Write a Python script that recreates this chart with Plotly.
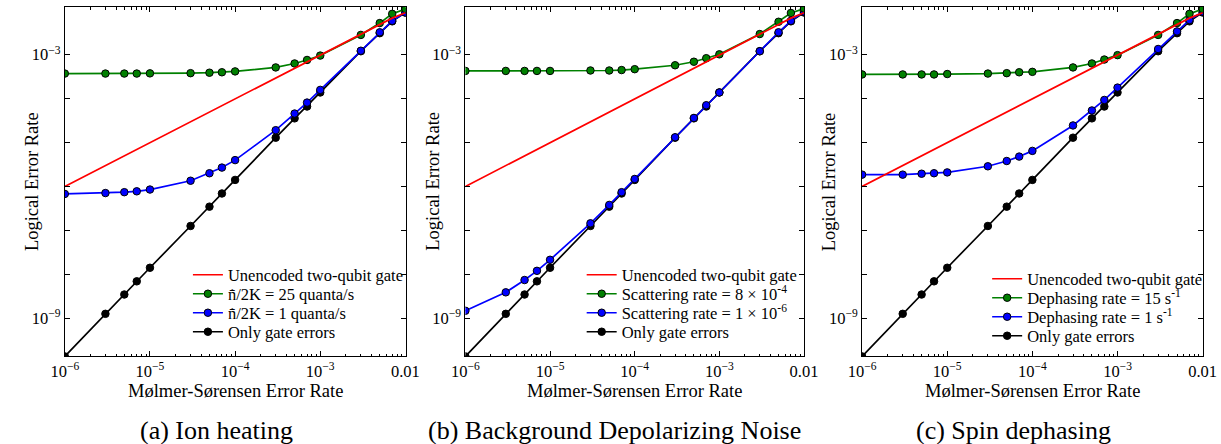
import plotly.graph_objects as go

W, H = 1221, 444

# ---------------- data ----------------
ms_error = [1e-6, 3e-6, 5e-6, 7e-6, 1e-5, 3e-5, 5e-5, 7e-5, 1e-4,
            3e-4, 5e-4, 7e-4, 1e-3, 3e-3, 5e-3, 7e-3, 1e-2]

unencoded = [1.0e-6, 3.0e-6, 5.0e-6, 7.0e-6, 1.0e-5, 3.0e-5, 5.0e-5, 7.0e-5, 1.0e-4,
             3.0e-4, 5.0e-4, 7.0e-4, 1.0e-3, 2.95e-3, 4.9e-3, 6.8e-3, 9.0e-3]

gate_only = [1.35e-10, 1.26e-9, 3.47e-9, 6.92e-9, 1.41e-8, 1.26e-7, 3.47e-7, 6.92e-7, 1.41e-6,
             1.29e-5, 3.55e-5, 6.61e-5, 1.38e-4, 1.20e-3, 3.09e-3, 5.75e-3, 9.12e-3]

heating_25 = [3.72e-4, 3.72e-4, 3.72e-4, 3.72e-4, 3.76e-4, 3.80e-4, 3.89e-4, 3.98e-4, 4.17e-4,
              5.13e-4, 6.31e-4, 7.59e-4, 9.55e-4, 2.82e-3, 5.25e-3, 8.51e-3, 1.10e-2]
heating_1 = [6.76e-7, 7.08e-7, 7.41e-7, 7.76e-7, 8.51e-7, 1.35e-6, 2.00e-6, 2.69e-6, 3.98e-6,
             1.91e-5, 4.57e-5, 8.13e-5, 1.58e-4, 1.23e-3, 3.24e-3, 5.89e-3, 9.12e-3]

scatter_8e4 = [4.27e-4, 4.27e-4, 4.27e-4, 4.27e-4, 4.27e-4, 4.37e-4, 4.37e-4, 4.47e-4, 4.68e-4,
               5.75e-4, 6.92e-4, 8.32e-4, 1.02e-3, 2.95e-3, 5.62e-3, 8.91e-3, 1.12e-2]
scatter_1e6 = [1.48e-9, 3.89e-9, 7.41e-9, 1.20e-8, 2.14e-8, 1.45e-7, 3.80e-7, 7.41e-7, 1.48e-6,
               1.32e-5, 3.63e-5, 7.08e-5, 1.38e-4, 1.20e-3, 3.24e-3, 5.89e-3, 9.55e-3]

dephasing_15 = [3.55e-4, 3.55e-4, 3.55e-4, 3.55e-4, 3.63e-4, 3.72e-4, 3.80e-4, 3.98e-4, 4.07e-4,
                5.13e-4, 6.31e-4, 7.76e-4, 9.77e-4, 2.82e-3, 5.25e-3, 8.51e-3, 1.10e-2]
dephasing_1 = [1.86e-6, 1.86e-6, 1.95e-6, 2.00e-6, 2.09e-6, 2.88e-6, 3.80e-6, 4.79e-6, 6.46e-6,
               2.45e-5, 5.37e-5, 9.33e-5, 1.78e-4, 1.35e-3, 3.39e-3, 6.17e-3, 9.55e-3]

x_tickvals = [1e-6, 1e-5, 1e-4, 1e-3, 1e-2]
x_ticktext = ["10<sup>−6</sup>", "10<sup>−5</sup>", "10<sup>−4</sup>", "10<sup>−3</sup>", "0.01"]
y_tickvals = [1e-9, 1e-8, 1e-7, 1e-6, 1e-5, 1e-4, 1e-3]
y_ticktext = ["10<sup>−9</sup>", "", "", "", "", "", "10<sup>−3</sup>"]

captions = ["(a) Ion heating", "(b) Background Depolarizing Noise", "(c) Spin dephasing"]
label_unencoded = "Unencoded two-qubit gate"
label_gate = "Only gate errors"
panel_labels = [
    ("n\u0304\u0307/2K = 25 quanta/s", "n\u0304\u0307/2K = 1 quanta/s"),
    ("Scattering rate = 8 × 10<sup>-4</sup>", "Scattering rate = 1 × 10<sup>-6</sup>"),
    ("Dephasing rate = 15 s<sup>-1</sup>", "Dephasing rate = 1 s<sup>-1</sup>"),
]
panel_green = [heating_25, scatter_8e4, dephasing_15]
panel_blue = [heating_1, scatter_1e6, dephasing_1]

# ---------------- layout geometry (pixels) ----------------
axes_px = [(52, 401), (462, 809), (868, 1217)]
y_top_px, y_bot_px = 7, 356
legend_text_x = [218, 621, 1036]
legend_rows_y = [[275, 294, 313, 332], [275, 294, 313, 332], [279, 298, 317, 336]]
caption_x = [207, 615, 1023]

FONT = "Liberation Serif"
RED, GREEN, BLUE, BLACK = "#ff0000", "#008000", "#0000ff", "#000000"

fig = go.Figure()
legend_count = 0
layout_legends = {}


def add_trace(idx, y, color, name, markers, row_y):
    global legend_count
    legend_count += 1
    lname = "legend" if legend_count == 1 else f"legend{legend_count}"
    sfx = "" if idx == 0 else str(idx + 1)
    tr = go.Scatter(
        x=ms_error, y=y, name=name,
        mode="lines+markers" if markers else "lines",
        line=dict(color=color, width=1.7),
        marker=dict(size=7.5, color=color, line=dict(color="black", width=1)),
        xaxis="x" + sfx, yaxis="y" + sfx, legend=lname, showlegend=True,
    )
    fig.add_trace(tr)
    layout_legends[lname] = dict(
        x=(legend_text_x[idx] - 40) / W, y=(H - row_y) / H,
        xanchor="left", yanchor="middle",
        bgcolor="rgba(0,0,0,0)", borderwidth=0,
        font=dict(family=FONT, size=16.5, color="black"),
    )


for i in range(3):
    rows = legend_rows_y[i]
    add_trace(i, gate_only, BLACK, label_gate, True, rows[3])
    add_trace(i, panel_blue[i], BLUE, panel_labels[i][1], True, rows[2])
    add_trace(i, panel_green[i], GREEN, panel_labels[i][0], True, rows[1])
    add_trace(i, unencoded, RED, label_unencoded, False, rows[0])

minor_x = [k * 10.0 ** e for e in range(-6, -2) for k in range(2, 10)]

layout = dict(
    width=W, height=H,
    margin=dict(l=0, r=0, t=0, b=0),
    paper_bgcolor="white", plot_bgcolor="white",
    font=dict(family=FONT, color="black"),
    showlegend=True,
)
layout.update(layout_legends)

annotations = []
ydom = [(H - y_bot_px) / H, (H - y_top_px) / H]
for i, (x0, x1) in enumerate(axes_px):
    sfx = "" if i == 0 else str(i + 1)
    layout["xaxis" + sfx] = dict(
        type="log", domain=[x0 / W, x1 / W], range=[-6, -1.995],
        anchor="y" + sfx, showgrid=False, zeroline=False,
        showline=True, linecolor="black", linewidth=1, mirror="ticks",
        ticks="inside", ticklen=5, tickwidth=1, tickcolor="black",
        tickvals=x_tickvals, ticktext=x_ticktext,
        tickfont=dict(family=FONT, size=16.5, color="black"),
        minor=dict(tickvals=minor_x, ticks="inside", ticklen=2.5, tickcolor="black", showgrid=False),
    )
    layout["yaxis" + sfx] = dict(
        type="log", domain=ydom, range=[-9.86, -1.914],
        anchor="x" + sfx, showgrid=False, zeroline=False,
        showline=True, linecolor="black", linewidth=1, mirror="ticks",
        ticks="inside", ticklen=5, tickwidth=1, tickcolor="black",
        tickvals=y_tickvals, ticktext=y_ticktext,
        tickfont=dict(family=FONT, size=16.5, color="black"),
    )
    annotations.append(dict(
        text="Mølmer-Sørensen Error Rate", xref="paper", yref="paper",
        x=(x0 + x1) / 2 / W, y=(H - 391) / H, xanchor="center", yanchor="middle",
        showarrow=False, font=dict(family=FONT, size=18.5, color="black")))
    annotations.append(dict(
        text="Logical Error Rate", xref="paper", yref="paper", textangle=-90,
        x=(x0 - 34) / W, y=(H - (y_top_px + y_bot_px) / 2) / H,
        xanchor="center", yanchor="middle",
        showarrow=False, font=dict(family=FONT, size=18.5, color="black")))
    annotations.append(dict(
        text=captions[i], xref="paper", yref="paper",
        x=caption_x[i] / W, y=(H - 430) / H, xanchor="center", yanchor="middle",
        showarrow=False, font=dict(family=FONT, size=26, color="black")))

layout["annotations"] = annotations
fig.update_layout(**layout)

fig.write_html("out.html", config={"displayModeBar": False},
               post_script="document.body.style.margin='0';")
